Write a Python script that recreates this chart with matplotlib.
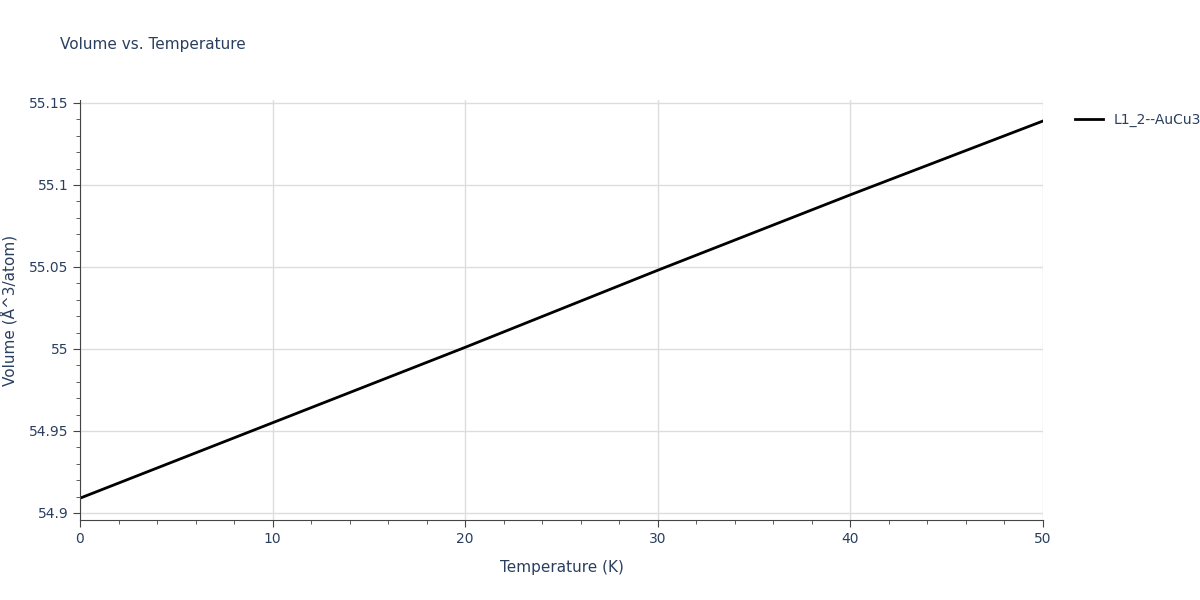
import numpy as np
import matplotlib.pyplot as plt
from matplotlib.ticker import MultipleLocator

temperature = [0, 10, 20, 30, 40, 50]
volume = [54.909, 54.955, 55.001, 55.048, 55.094, 55.139]

fig = plt.figure(figsize=(12, 6), dpi=100)
ax = fig.add_axes([80/1200, 80/600, 963/1200, 420/600])

ax.plot(temperature, volume, color='black', linewidth=2, label="L1_2--AuCu3")
ax.set_xlim(0, 50)
ax.set_ylim(54.8957, 55.1518)
ax.set_yticks([54.9, 54.95, 55.0, 55.05, 55.1, 55.15])
ax.set_yticklabels(["54.9", "54.95", "55", "55.05", "55.1", "55.15"])
ax.xaxis.set_minor_locator(MultipleLocator(2))
ax.yaxis.set_minor_locator(MultipleLocator(0.01))
ax.grid(True, color='#dddddd', linewidth=1)
ax.set_axisbelow(True)
for s in ['top', 'right']:
    ax.spines[s].set_visible(False)
for s in ['left', 'bottom']:
    ax.spines[s].set_color('#444444')
tc = '#2a3f5f'
ax.tick_params(which='major', length=5, color='#444444', labelcolor=tc, labelsize=10)
ax.tick_params(which='minor', length=3, color='#444444')
ax.set_xlabel("Temperature (K)", color=tc, fontsize=11, labelpad=10)
ax.set_ylabel("Volume (Å^3/atom)", color=tc, fontsize=11, labelpad=8)
fig.text(60/1200, 1 - 45/600, "Volume vs. Temperature", color=tc, fontsize=11, va='center')
ax.legend(loc='upper left', bbox_to_anchor=(1.02, 1.0), frameon=False,
          labelcolor=tc, fontsize=10, handlelength=2)

fig.savefig("out.png", dpi=100)
